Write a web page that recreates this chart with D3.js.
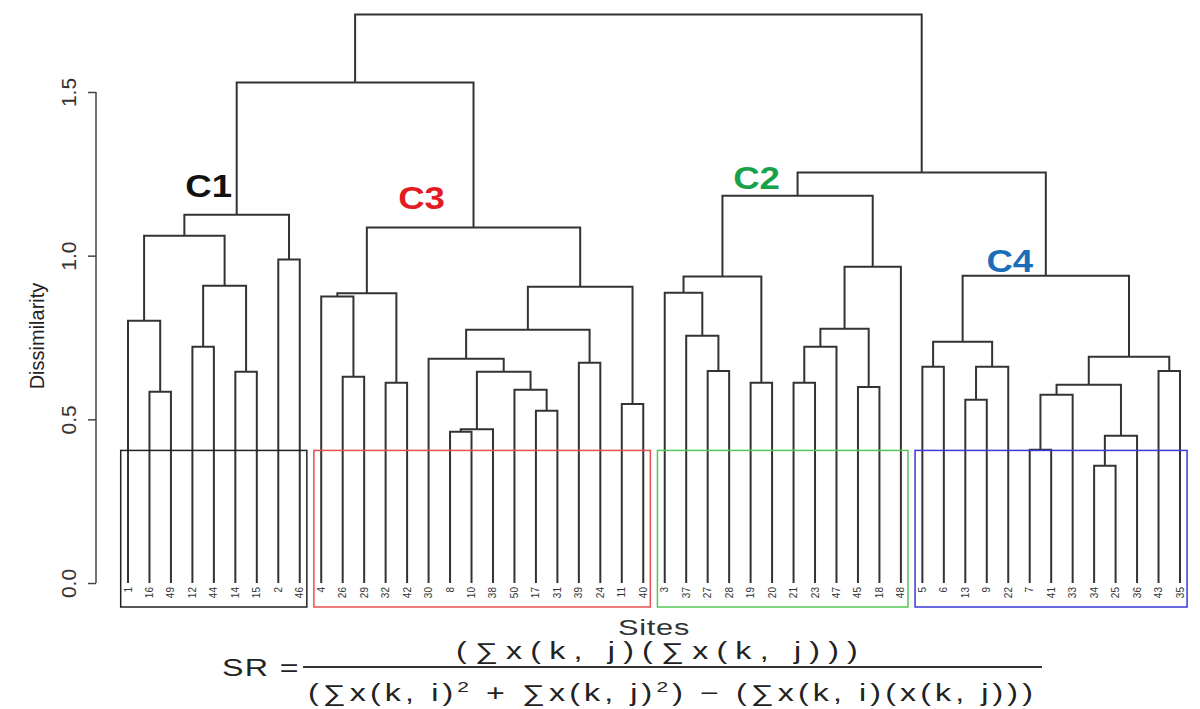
<!DOCTYPE html>
<html lang="en">
  <head>
    <meta charset="UTF-8" />
    <title>dendrogram</title>
    <style>
      body { margin: 0; background: #fff; }
      text { font-family: 'Liberation Sans', Arial, sans-serif; }
    </style>
  </head>
  <body>
    <svg id="svg" width="1200" height="709"></svg>
    <script src="https://cdn.jsdelivr.net/npm/d3@7"></script>
    <script>
      // leaf order, left to right
      const siteOrder = [1, 16, 49, 12, 44, 14, 15, 2, 46,
        4, 26, 29, 32, 42, 30, 8, 10, 38, 50, 17, 31, 39, 24, 11, 40,
        3, 37, 27, 28, 19, 20, 21, 23, 47, 45, 18, 48,
        5, 6, 13, 9, 22, 7, 41, 33, 34, 25, 36, 43, 35]

      // hclust style merges: negative = site, positive = earlier merge (1-based)
      const mergeLeft = [-16, -1, -12, -14, 3, 2, -2, 6,
        -26, -4, -32, 10, -8, 13, -17, -50, 14, -30, -39, 18, -11, 20, 12,
        -27, -37, -3, -19, 26, -21, 29, -45, 30, 32, 28,
        -5, -13, 36, 35, -7, 39, -34, 41, 40, -43, 43, 38,
        8, 34, 47]
      const mergeRight = [-49, 1, -44, -15, 4, 5, -46, 7,
        -29, 9, -42, 11, -10, -38, -31, 15, 16, 17, -24, 19, -40, 21, 22,
        -28, 24, 25, -20, 27, -23, -47, -18, 31, -48, 33,
        -6, -9, -22, 37, -41, -33, -25, -36, 42, -35, 44, 45,
        23, 46, 48]
      const mergeHeight = [0.584, 0.801, 0.722, 0.645, 0.908, 1.061, 0.988, 1.125,
        0.63, 0.875, 0.612, 0.885, 0.462, 0.47, 0.526, 0.59, 0.645, 0.685, 0.673, 0.774, 0.547, 0.905, 1.086,
        0.648, 0.755, 0.887, 0.612, 0.936, 0.612, 0.722, 0.599, 0.777, 0.966, 1.183,
        0.661, 0.56, 0.661, 0.737, 0.407, 0.575, 0.358, 0.45, 0.606, 0.648, 0.691, 0.939,
        1.529, 1.254, 1.737]

      const clusterNames = ['C1', 'C3', 'C2', 'C4']
      const clusterSizes = [9, 16, 12, 13]
      const clusterTopMerge = [8, 23, 34, 46]
      const boxTop = 0.405
      const yTicks = [0, 0.5, 1, 1.5]

      const labelColors = ['#111', '#e31b23', '#17a24a', '#1a6db8']
      const boxColors = ['#222', '#e65050', '#55c655', '#3a3ad8']
      const labelDx = [-28, -52, -41, -36]
      const labelDy = [-18, -19, -7, -4]

      const svg = d3.select('#svg')

      const x = d3.scaleLinear().domain([0, siteOrder.length - 1]).range([128, 1180])
      const y = d3.scaleLinear().domain([0, 1.5]).range([583, 92])

      // x position of every node
      const leafX = {}
      siteOrder.forEach((s, i) => (leafX[s] = x(i)))
      const nodeX = []
      const nodeH = []
      const px = (id) => (id < 0 ? leafX[-id] : nodeX[id - 1])
      const ph = (id) => (id < 0 ? 0 : nodeH[id - 1])
      mergeHeight.forEach((h, i) => {
        nodeX.push((px(mergeLeft[i]) + px(mergeRight[i])) / 2)
        nodeH.push(h)
      })

      // dendrogram branches
      const g = svg.append('g')
      g.selectAll('path.branch')
        .data(mergeHeight)
        .enter()
        .append('path')
        .attr('class', 'branch')
        .attr('d', (h, i) => {
          const a = mergeLeft[i], b = mergeRight[i]
          return 'M' + px(a) + ',' + y(ph(a)) + 'V' + y(h) + 'H' + px(b) + 'V' + y(ph(b))
        })
        .attr('fill', 'none')
        .attr('stroke', '#333')
        .attr('stroke-width', 2)

      // leaf labels
      g.selectAll('text.leaf')
        .data(siteOrder)
        .enter()
        .append('text')
        .attr('class', 'leaf')
        .attr('transform', (d, i) => 'translate(' + (x(i) + 3.5) + ',' + (y(0) + 4) + ') rotate(-90)')
        .attr('text-anchor', 'end')
        .attr('font-size', 10)
        .attr('fill', '#333')
        .text((d) => d)

      // cluster boxes + names
      let start = 0
      clusterSizes.forEach((n, k) => {
        const x0 = x(start - 0.34), x1 = x(start + n - 1 + 0.33)
        g.append('rect')
          .attr('x', x0)
          .attr('y', y(boxTop))
          .attr('width', x1 - x0)
          .attr('height', 607 - y(boxTop))
          .attr('fill', 'none')
          .attr('stroke', boxColors[k])
          .attr('stroke-width', 1.5)
        const top = clusterTopMerge[k] - 1
        g.append('text')
          .attr('transform', 'translate(' + (nodeX[top] + labelDx[k]) + ',' + (y(nodeH[top]) + labelDy[k]) + ') scale(1.18,1)')
          .attr('text-anchor', 'middle')
          .attr('font-size', 31)
          .attr('font-weight', 'bold')
          .attr('fill', labelColors[k])
          .text(clusterNames[k])
        start += n
      })

      // y axis
      const axis = svg.append('g')
        .attr('transform', 'translate(96,0)')
        .call(d3.axisLeft(y).tickValues(yTicks).tickFormat(d3.format('.1f')).tickSize(8).tickSizeOuter(0))
      axis.select('.domain').remove()
      axis.append('line')
        .attr('y1', y(0)).attr('y2', y(1.5))
        .attr('stroke', '#444').attr('stroke-width', 1.5)
      axis.selectAll('.tick line').attr('stroke', '#444').attr('stroke-width', 1.5)
      axis.selectAll('.tick text')
        .attr('transform', 'rotate(-90)')
        .attr('x', 0).attr('y', -20).attr('dy', 0)
        .attr('text-anchor', 'middle')
        .attr('font-size', 21)
        .attr('fill', '#333')
        .attr('font-family', 'Liberation Sans, Arial, sans-serif')

      svg.append('text')
        .attr('transform', 'translate(44,336) rotate(-90)')
        .attr('text-anchor', 'middle')
        .attr('font-size', 20)
        .attr('fill', '#222')
        .text('Dissimilarity')

      // widen a text (stretch sx + letter spacing) so that it spans [x0, x1]
      function fit(sel, x0, x1, baseline, sx) {
        sel.attr('x', 0).attr('y', 0)
          .attr('transform', 'translate(' + x0 + ',' + baseline + ') scale(' + sx + ',1)')
        const w = sel.node().getComputedTextLength()
        const n = sel.text().length
        sel.attr('letter-spacing', Math.max(0, ((x1 - x0) / sx - w) / n))
      }

      const sites = svg.append('text').attr('font-size', 22).attr('fill', '#333').text('Sites')
      fit(sites, 618, 690, 635, 1.4)

      // formula
      const f = svg.append('g').attr('fill', '#222').attr('font-size', 23)
      fit(f.append('text').text('SR ='), 222, 300, 676, 1.4)
      fit(f.append('text').text('(\u2211x(k, j)(\u2211x(k, j)))'), 456, 866, 659, 1.4)
      f.append('line').attr('x1', 303).attr('x2', 1042).attr('y1', 667).attr('y2', 667)
        .attr('stroke', '#333').attr('stroke-width', 2)
      const den = f.append('text')
      den.append('tspan').text('(\u2211x(k, i)')
      den.append('tspan').attr('dy', -9).attr('font-size', 15).text('2')
      den.append('tspan').attr('dy', 9).text(' + \u2211x(k, j)')
      den.append('tspan').attr('dy', -9).attr('font-size', 15).text('2')
      den.append('tspan').attr('dy', 9).text(') \u2212 (\u2211x(k, i)(x(k, j)))')
      fit(den, 308, 1037, 701, 1.4)
    </script>
  </body>
</html>
